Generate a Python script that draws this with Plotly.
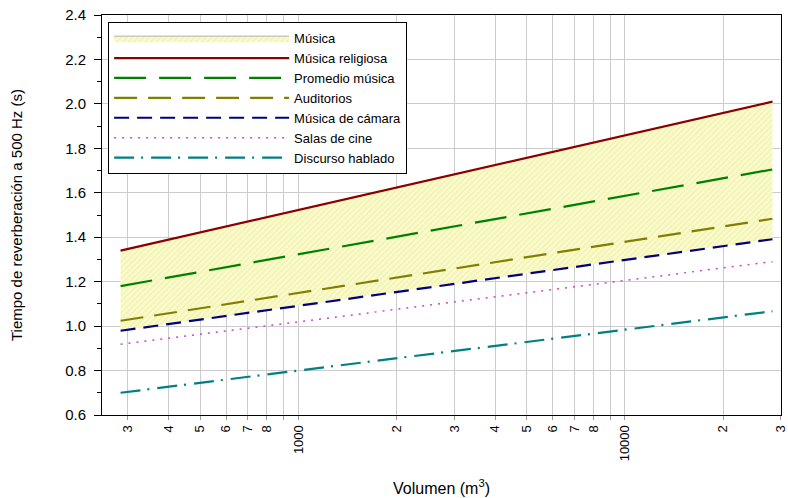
import plotly.graph_objects as go
import numpy as np

# Data
volumen = [285, 28300]
musica_religiosa = [1.34, 2.01]
promedio_musica = [1.18, 1.705]
auditorios = [1.024, 1.483]
musica_camara = [0.979, 1.391]
salas_cine = [0.918, 1.29]
discurso = [0.70, 1.067]

x_tickvals = [300, 400, 500, 600, 700, 800, 900, 1000, 2000, 3000, 4000, 5000,
              6000, 7000, 8000, 9000, 10000, 20000, 30000]
x_ticktext = ["3", "4", "5", "6", "7", "8", "", "1000", "2", "3", "4", "5",
              "6", "7", "8", "", "10000", "2", "3"]

FONT = "Liberation Sans, Arial, sans-serif"

fig = go.Figure()

# lower boundary of band (hidden)
fig.add_trace(go.Scatter(x=volumen, y=musica_camara, mode="lines",
                         line=dict(width=0, color="rgba(0,0,0,0)"),
                         showlegend=False, hoverinfo="skip"))
fig.add_trace(go.Scatter(x=volumen, y=musica_religiosa, mode="lines", name="Música",
                         fill="tonexty", fillcolor="#ffffcc",
                         fillpattern=dict(shape="/", bgcolor="#fbfbc8", fgcolor="#dcdca0",
                                          size=4, solidity=0.25),
                         line=dict(width=1, color="#b0b0b0"), legendrank=1))

fig.add_trace(go.Scatter(x=volumen, y=musica_religiosa, mode="lines", name="Música religiosa",
                         line=dict(color="#8b0000", width=2.2), legendrank=2))
fig.add_trace(go.Scatter(x=volumen, y=promedio_musica, mode="lines", name="Promedio música",
                         line=dict(color="#008000", width=2.2, dash="32px,13px"), legendrank=3))
fig.add_trace(go.Scatter(x=volumen, y=auditorios, mode="lines", name="Auditorios",
                         line=dict(color="#808000", width=2.2, dash="23px,11px"), legendrank=4))
fig.add_trace(go.Scatter(x=volumen, y=musica_camara, mode="lines", name="Música de cámara",
                         line=dict(color="#000080", width=2.2, dash="15px,8px"), legendrank=5))
fig.add_trace(go.Scatter(x=volumen, y=salas_cine, mode="lines", name="Salas de cine",
                         line=dict(color="#cc44cc", width=1.5, dash="2px,6px"), legendrank=6))
fig.add_trace(go.Scatter(x=volumen, y=discurso, mode="lines", name="Discurso hablado",
                         line=dict(color="#008080", width=2.2, dash="20px,7px,2px,8px"), legendrank=7))

fig.update_layout(
    width=788, height=498,
    margin=dict(l=102, r=7, t=15, b=83),
    paper_bgcolor="white", plot_bgcolor="white",
    font=dict(family=FONT, size=13, color="black"),
    showlegend=True,
    legend=dict(x=0.009, y=0.982, xanchor="left", yanchor="top",
                bgcolor="white", bordercolor="black", borderwidth=1,
                font=dict(family=FONT, size=13), itemwidth=175,
                tracegroupgap=0, traceorder="normal"),
)

fig.update_xaxes(type="log", range=[np.log10(250), np.log10(30000) + 0.0008],
                 tickvals=x_tickvals, ticktext=x_ticktext, tickangle=-90,
                 tickfont=dict(size=13, family=FONT), automargin=False,
                 showgrid=True, gridcolor="#cccccc", gridwidth=1,
                 showline=True, linecolor="black", linewidth=1, mirror=True,
                 ticks="outside", ticklen=4, tickcolor="#999999",
                 zeroline=False,
                 title=dict(text="Volumen (m<sup>3</sup>)", font=dict(size=16, family=FONT), standoff=22))

fig.update_yaxes(range=[0.6, 2.4], dtick=0.2, tick0=0.6, tickformat=".1f",
                 tickfont=dict(size=15, family=FONT), automargin=False,
                 showgrid=True, gridcolor="#cccccc", gridwidth=1,
                 showline=True, linecolor="black", linewidth=1, mirror=True,
                 ticks="outside", ticklen=7, tickcolor="black", ticklabelstandoff=5,
                 minor=dict(dtick=0.1, ticks="outside", ticklen=4, tickcolor="black", showgrid=False),
                 zeroline=False,
                 title=dict(text="Tiempo de reverberación a 500 Hz (s)", font=dict(size=15, family=FONT), standoff=38))

fig.write_html("out.html")
